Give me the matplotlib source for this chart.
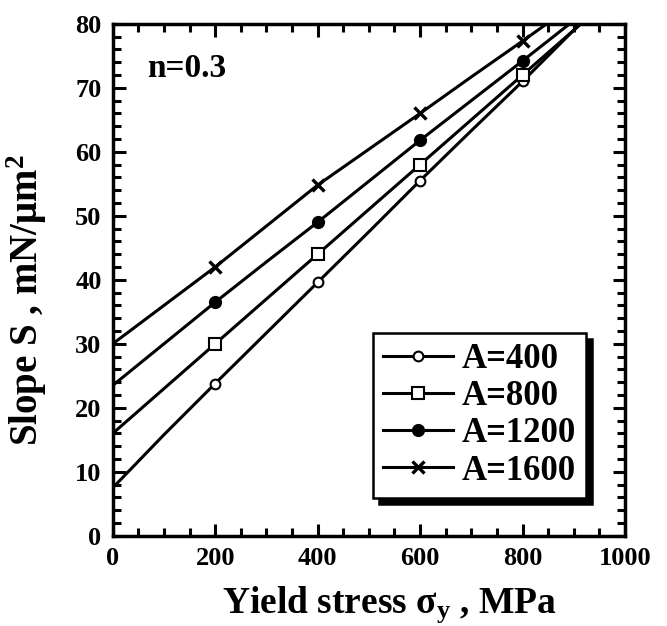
import numpy as np
import matplotlib
matplotlib.use("Agg")
import matplotlib.pyplot as plt
from matplotlib.ticker import MultipleLocator

# datos (n=0.3)
sigma_y = [0, 100, 200, 300, 400, 500, 600, 700, 800, 900, 950]
s_400 = [7.5, 15.8, 23.8, 31.7, 39.6, 47.5, 55.5, 63.3, 71.0, 79.0, 83.0]
s_800 = [16.0, 23.0, 30.0, 37.0, 44.0, 51.0, 58.0, 65.0, 72.0, 79.0, 82.5]
s_1200 = [23.5, 30.0, 36.5, 42.8, 49.0, 55.4, 61.8, 68.0, 74.2, 80.5, 83.5]
s_1600 = [30.0, 36.0, 42.0, 48.4, 54.8, 60.4, 66.0, 71.7, 77.3, 83.0, 86.0]
labels = ["A=400", "A=800", "A=1200", "A=1600"]

plt.rcParams["font.family"] = ["Liberation Serif", "DejaVu Serif"]
plt.rcParams["font.weight"] = "bold"
plt.rcParams["mathtext.fontset"] = "custom"
plt.rcParams["mathtext.rm"] = "Liberation Serif:bold"
plt.rcParams["mathtext.it"] = "Liberation Serif:bold"
plt.rcParams["mathtext.bf"] = "Liberation Serif:bold"

fig = plt.figure(figsize=(6.67, 6.26), dpi=100)
ax = fig.add_axes([0.169, 0.144, 0.768, 0.818])

series = [s_400, s_800, s_1200, s_1600]
markers = [dict(marker="o", mfc="white", ms=7, mew=1.5),
           dict(marker="s", mfc="white", ms=8, mew=1.5),
           dict(marker="o", mfc="black", ms=8, mew=1.5),
           dict(marker="x", ms=9, mew=2.4)]
marcas = [2, 4, 6, 8]
for s, lab, mk in zip(series, labels, markers):
    ax.plot(sigma_y, s, color="black", lw=2.2, label=lab, markevery=marcas,
            mec="black", **mk)

ax.set_xlim(0, 1000)
ax.set_ylim(0, 80)
ax.xaxis.set_major_locator(MultipleLocator(200))
ax.xaxis.set_minor_locator(MultipleLocator(50))
ax.yaxis.set_major_locator(MultipleLocator(10))
ax.yaxis.set_minor_locator(MultipleLocator(2))
ax.tick_params(which="both", direction="in", top=True, right=True,
               labelsize=19, width=2.2)
ax.tick_params(which="major", length=9, pad=8)
ax.tick_params(which="minor", length=5.5)
for sp in ax.spines.values():
    sp.set_linewidth(2.5)
for t in ax.get_xticklabels() + ax.get_yticklabels():
    t.set_fontweight("bold")

ax.set_xlabel(r"Yield stress $\sigma_{\rm y}$ , MPa", fontsize=27,
              fontweight="bold")
ax.xaxis.set_label_coords(0.54, -0.095)
ax.set_ylabel(r"Slope S , mN/$\mu$m$^2$", fontsize=28, fontweight="bold")
ax.yaxis.set_label_coords(-0.125, 0.46)
ax.text(68, 73, "n=0.3", fontsize=24, fontweight="bold", va="center")

leg = ax.legend(loc="lower right", bbox_to_anchor=(0.924, 0.074),
                fontsize=25, frameon=True, fancybox=False,
                shadow={"color": "black", "ox": 4.5, "oy": -4.5, "alpha": 1},
                handlelength=2.0, handletextpad=0.25, borderpad=0.3,
                labelspacing=0.12, borderaxespad=0)
leg.get_frame().set_edgecolor("black")
leg.get_frame().set_linewidth(1.8)
leg.get_frame().set_alpha(1)

fig.savefig("out.png", dpi=100)
